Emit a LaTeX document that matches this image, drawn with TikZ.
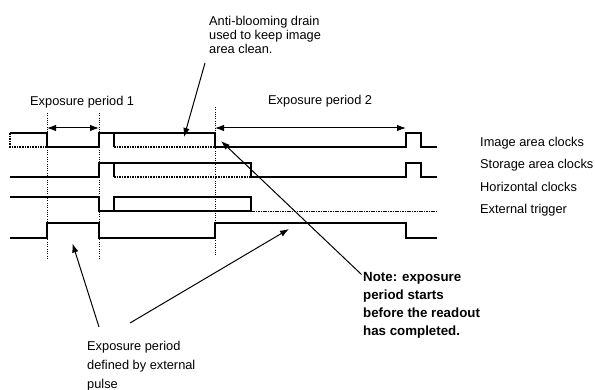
\documentclass[tikz,border=0pt]{standalone}
\usepackage{fontspec}
\setmainfont{Liberation Sans}
\usetikzlibrary{arrows.meta}
\begin{document}
\begin{tikzpicture}[x=1pt,y=-1pt,
  wave/.style={line width=1.3pt, line join=miter},
  drain/.style={line width=1.1pt, dash pattern=on 1.6pt off 1pt},
  hdash/.style={line width=1.4pt, dash pattern=on 1.6pt off 0.8pt},
  guide/.style={line width=1pt, dash pattern=on 1pt off 1.3pt},
  lbl/.style={inner sep=0pt, font=\fontsize{12.8}{14}\selectfont, align=left},
  lblb/.style={inner sep=0pt, font=\fontsize{12.8}{19}\selectfont, align=left},
  notestyle/.style={inner sep=0pt, font=\fontsize{13.3}{18}\selectfont\bfseries, align=left},
  ptr/.style={line width=1pt, -{Latex[length=9pt,width=6.5pt]}},
  span/.style={line width=1pt, {Latex[length=9pt,width=6.5pt]}-{Latex[length=9pt,width=6.5pt]}}
]
\useasboundingbox (0,0) rectangle (595,390);

% ---- text nodes
\node[lbl, anchor=north west] (ab) at (209,16) {Anti-blooming drain\\used to keep image\\area clean.};
\node[lbl, anchor=base west] (ep1) at (30,105.5) {Exposure period 1};
\node[lbl, anchor=base west] (ep2) at (268,104.5) {Exposure period 2};
\node[lbl, anchor=base west] (limg) at (480,147) {Image area clocks};
\node[lbl, anchor=base west] (lsto) at (480,169) {Storage area clocks};
\node[lbl, anchor=base west] (lhor) at (480,191.5) {Horizontal clocks};
\node[lbl, anchor=base west] (lext) at (480,213.5) {External trigger};
\node[notestyle, anchor=north west] (note) at (363,272.4) {Note: exposure\\period starts\\before the readout\\has completed.};
\node[lblb, anchor=north west] (pulse) at (87,341) {Exposure period\\defined by external\\pulse};

% ---- dotted guide lines
\draw[guide] (47,113) -- (47,260);
\draw[guide] (99,113) -- (99,260);
\draw[guide] (215,107) -- (215,255);

% ---- image area clocks
\draw[wave] (10,133) -- (47,133) -- (47,147) -- (99,147) -- (99,133) -- (215,133) -- (215,147)
  -- (406,147) -- (406,133) -- (421,133) -- (421,147) -- (437,147);
\draw[drain] (10,133) -- (10,147) -- (47,147);
\draw[wave] (114,133) -- (114,147);
\draw[drain] (114,147) -- (215,147);

% ---- storage area clocks
\draw[wave] (10,177) -- (99,177) -- (99,163) -- (251,163) -- (251,177)
  -- (406,177) -- (406,163) -- (421,163) -- (421,177) -- (437,177);
\draw[wave] (114,163) -- (114,177);
\draw[drain] (114,177) -- (251,177);

% ---- horizontal clocks
\draw[wave] (10,197) -- (99,197) -- (99,211) -- (251,211);
\draw[wave] (114,211) -- (114,197) -- (251,197) -- (251,211);
\draw[hdash] (251,211.5) -- (437,211.5);

% ---- external trigger
\draw[wave] (10,238) -- (47,238) -- (47,223) -- (99,223) -- (99,238) -- (215,238)
  -- (215,223) -- (406,223) -- (406,238) -- (437,238);

% ---- exposure period arrows
\coordinate (e1a) at (47,128);
\coordinate (e1b) at (99,128);
\coordinate (e2a) at (215,128);
\coordinate (e2b) at (406,128);
\draw[span] (e1a) -- (e1b);
\draw[span] (e2a) -- (e2b);

% ---- pointers
\coordinate (abs) at (205,63);
\coordinate (abt) at (184,137);
\draw[ptr] (abs) -- (abt);

\coordinate (nts) at (361.5,274.5);
\coordinate (ntt) at (221,141);
\draw[ptr] (nts) -- (ntt);

\coordinate (p1s) at (99,327);
\coordinate (p1t) at (72.5,243.5);
\draw[ptr] (p1s) -- (p1t);

\coordinate (p2s) at (130,323);
\coordinate (p2t) at (289,229);
\draw[ptr] (p2s) -- (p2t);
\end{tikzpicture}
\end{document}
